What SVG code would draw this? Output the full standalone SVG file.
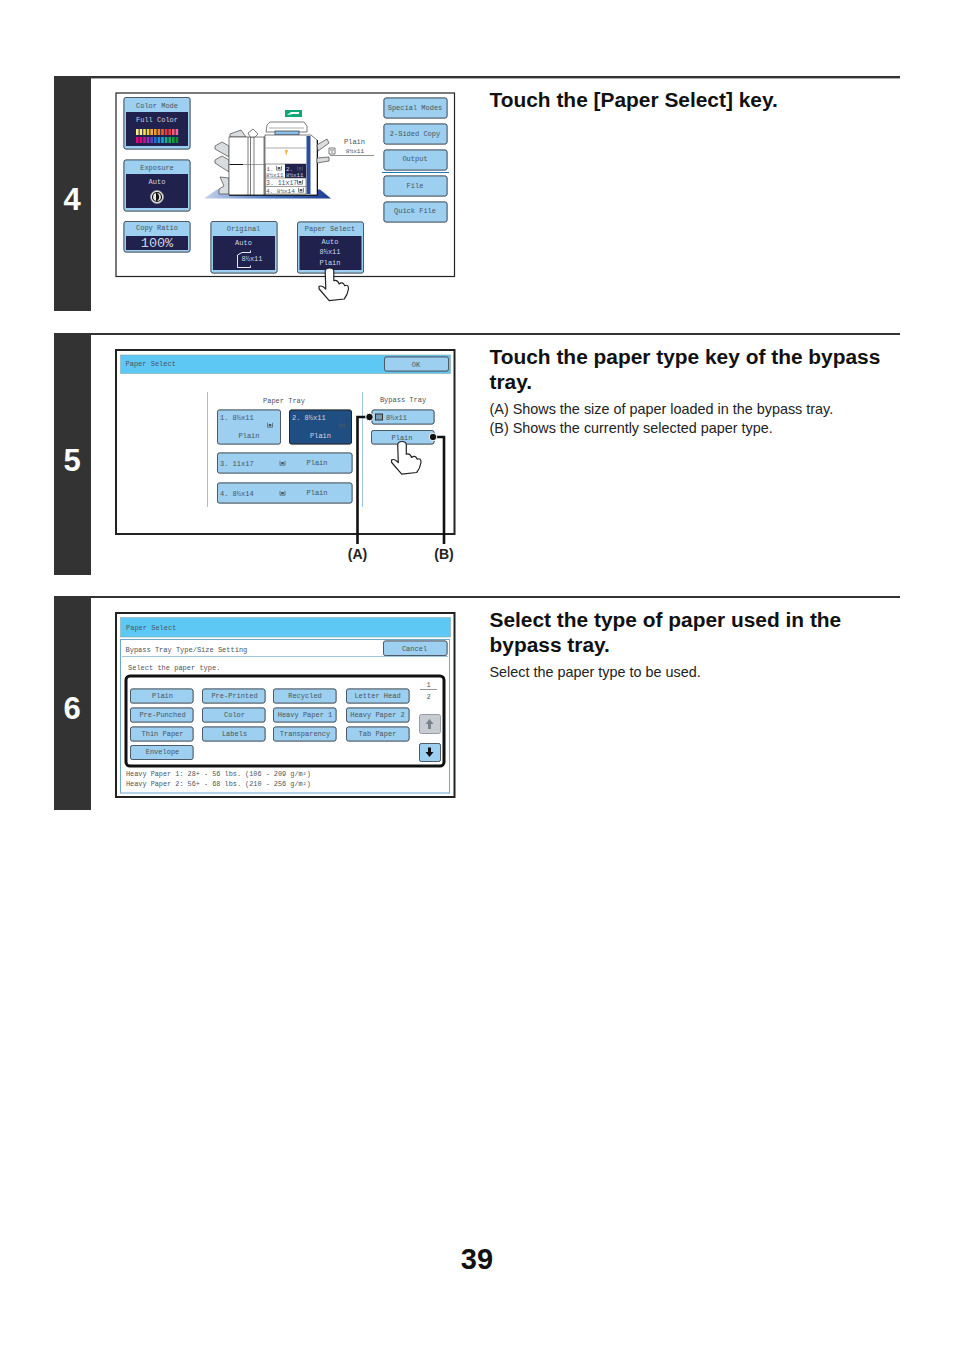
<svg xmlns="http://www.w3.org/2000/svg" xmlns:xlink="http://www.w3.org/1999/xlink" width="954" height="1351" viewBox="0 0 954 1351">
<style>
text{font-family:"Liberation Mono",monospace;font-size:7px;fill:#4a555d}
.m{text-anchor:middle}
.w{fill:#cfd6e2}
.num{font-family:"Liberation Sans",Arial,sans-serif;font-weight:700;font-size:31px;fill:#fff;text-anchor:middle}
.h{font-family:"Liberation Sans",Arial,sans-serif;font-weight:700;font-size:20.9px;fill:#111}
.b{font-family:"Liberation Sans",Arial,sans-serif;font-size:14.4px;fill:#222}
.l{font-family:"Liberation Sans",Arial,sans-serif;font-weight:700;font-size:14px;fill:#222;text-anchor:middle}
.pg{font-family:"Liberation Sans",Arial,sans-serif;font-weight:700;font-size:29px;fill:#111;text-anchor:middle}
.n{font-size:6.85px}
.bar{fill:#333}
.fr{fill:#fff;stroke:#222;stroke-width:1.2}
.fr2{fill:#fff;stroke:#222;stroke-width:2}
.btn{fill:#9ccff0;stroke:#4a555d;stroke-width:.9;filter:drop-shadow(.8px .8px 0 #5f6e78)}
.btnd{fill:#1f4f82;stroke:#222;stroke-width:.9;filter:drop-shadow(.8px .8px 0 #5f6e78)}
.hdr{fill:#5ec8f5;stroke:#8aa;stroke-width:.6}
.dark{fill:#20214d}
.vl{stroke:#9fc4de;stroke-width:1;fill:none}
.mach{fill:#fff;stroke:#444;stroke-width:.7}
.tr{fill:#d9dde0;stroke:#444;stroke-width:.7}
.hand{fill:#fff;stroke:#222;stroke-width:1.2;stroke-linejoin:round}
.con{fill:none;stroke:#111;stroke-width:2.6}
.dot{fill:#111;stroke:#fff;stroke-width:1}
</style>
<defs>
<path id="hand" class="hand" d="M-4.3 3.3Q-4 0 0 0Q4.3 0 4.3 3.3L4.3 12.7Q8 11.5 9.7 16Q13 13 15.3 17.7Q19 16 19 21Q18 27 14.7 31L-.3 32.7L-10.3 21Q-11 18 -9.700 18.300Q-7.500 17 -3.700 21Z"/>
<g id="tray"><path d="M-2.500 -2.200V2.200H2.500V-2.200" fill="none" stroke="#4a555d" stroke-width=".7"/><rect x="-1.300" y="-1" width="2.600" height="2.200" fill="#4a555d"/></g>
<linearGradient id="base" x1="0" x2="1" y1="0" y2="0"><stop offset="0" stop-color="#c5d3ec"/><stop offset=".5" stop-color="#4f78c4"/><stop offset="1" stop-color="#1c3f8e"/></linearGradient>
</defs>

<g id="step-4">
<rect class="bar" x="54" y="76" width="846" height="2.400"/>
<rect class="bar" x="54" y="76" width="37" height="235"/>
<text class="num" x="72" y="210">4</text>
<text class="h" x="489.500" y="107">Touch the [Paper Select] key.</text>
<rect class="fr" x="116" y="93" width="338.500" height="183.500"/>
</g>

<g id="color-mode">
<rect class="btn" x="124" y="97.500" width="66" height="51.500" rx="2"/>
<rect class="dark" x="126" y="112" width="62" height="34"/>
<text class="m" x="157" y="108">Color Mode</text>
<text class="m w" x="157" y="122">Full Color</text>
<g id="color-bars">
<rect x="136" y="129" width="2.600" height="6" fill="#f7ef8a"/><rect x="139.600" y="129" width="2.600" height="6" fill="#f7ef8a"/><rect x="143.200" y="129" width="2.600" height="6" fill="#f5e033"/><rect x="146.800" y="129" width="2.600" height="6" fill="#f5d033"/><rect x="150.400" y="129" width="2.600" height="6" fill="#f0b030"/><rect x="154" y="129" width="2.600" height="6" fill="#ee9a30"/><rect x="157.600" y="129" width="2.600" height="6" fill="#ec8030"/><rect x="161.200" y="129" width="2.600" height="6" fill="#e86030"/><rect x="164.800" y="129" width="2.600" height="6" fill="#e53a35"/><rect x="168.400" y="129" width="2.600" height="6" fill="#e53a45"/><rect x="172" y="129" width="2.600" height="6" fill="#ee5a80"/><rect x="175.600" y="129" width="2.600" height="6" fill="#f06aa0"/>
<rect x="136" y="137" width="2.600" height="6" fill="#e6007e"/><rect x="139.600" y="137" width="2.600" height="6" fill="#e6007e"/><rect x="143.200" y="137" width="2.600" height="6" fill="#d0109a"/><rect x="146.800" y="137" width="2.600" height="6" fill="#a030b0"/><rect x="150.400" y="137" width="2.600" height="6" fill="#6040c0"/><rect x="154" y="137" width="2.600" height="6" fill="#1f6fd0"/><rect x="157.600" y="137" width="2.600" height="6" fill="#1090dd"/><rect x="161.200" y="137" width="2.600" height="6" fill="#10a8d0"/><rect x="164.800" y="137" width="2.600" height="6" fill="#10b090"/><rect x="168.400" y="137" width="2.600" height="6" fill="#10a860"/><rect x="172" y="137" width="2.600" height="6" fill="#10a040"/><rect x="175.600" y="137" width="2.600" height="6" fill="#109030"/>
</g>
</g>

<g id="exposure">
<rect class="btn" x="124" y="160" width="66" height="51" rx="2"/>
<rect class="dark" x="126" y="174" width="62" height="34"/>
<text class="m" x="157" y="169.500">Exposure</text>
<text class="m w" x="157" y="183.500">Auto</text>
<circle cx="157" cy="197" r="6.500" fill="#e8e8e8" stroke="#999" stroke-width=".8"/>
<path d="M156 192.500A4.800 4.800 0 0 1 156 201.500Z" fill="#111"/>
<circle cx="157" cy="197" r="4.500" fill="none" stroke="#111" stroke-width="1.200"/>
</g>

<g id="copy-ratio">
<rect class="btn" x="124" y="221.500" width="66" height="30.500" rx="2"/>
<rect class="dark" x="126" y="236" width="62" height="14"/>
<text class="m" x="157" y="230">Copy Ratio</text>
<text class="m w" x="157" y="247" style="font-size:13.500px">100%</text>
</g>

<g id="original">
<rect class="btn" x="211" y="221.500" width="66" height="51.500" rx="2"/>
<rect class="dark" x="213" y="236" width="62" height="34"/>
<text class="m" x="243.500" y="231">Original</text>
<text class="m w" x="243.500" y="245">Auto</text>
<path d="M250.500 250.500V252.500H242L237.500 255V267.500H250.500V265.500" fill="none" stroke="#e8edf2" stroke-width="1"/>
<text class="m w" x="252" y="261">8½x11</text>
</g>

<g id="paper-select-key">
<rect class="btn" x="297.500" y="222" width="66" height="51" rx="2"/>
<rect class="dark" x="299.500" y="236" width="62" height="34"/>
<text class="m" x="330" y="231">Paper Select</text>
<text class="m w" x="330" y="244">Auto</text>
<text class="m w" x="330" y="254">8½x11</text>
<text class="m w" x="330" y="265">Plain</text>
<use xlink:href="#hand" href="#hand" x="329.500" y="268"/>
</g>

<g id="machine">
<polygon points="204,198.500 217,189.500 320,189.500 331,198.500" fill="url(#base)"/>
<rect x="285" y="110" width="17" height="7" fill="#12a875"/>
<path d="M287 115L291 112H299V114H293Z" fill="#fff"/>
<path d="M266 132L267 125L270 122H304L307 126V132Z" class="mach"/>
<path d="M269 128H304" stroke="#777" stroke-width=".6"/>
<rect x="275" y="131" width="24" height="4" fill="#8bbfe8" stroke="#333" stroke-width=".7"/>
<path d="M229 157L215 149V146L222 142L229 146ZM229 172L215 163V160L222 156L229 160ZM229 194H219V189L224 186L220 177L229 178Z" class="tr"/>
<path d="M230 137V134L241 130L246 137Z" class="tr"/>
<path d="M229 137H265V195H229Z" class="mach"/>
<path d="M248 133L253 129L258 134L255 137H250Z" class="mach"/>
<path d="M248 137V195M250.500 137V195M254 137V195M264 137V195" class="mach"/>
<path d="M229.500 164.500H243" stroke="#111" stroke-width="1" fill="none"/>
<path d="M243 164.500H265" stroke="#666" stroke-width=".6" fill="none"/>
<path d="M265 135H311L317 140V195H265Z" class="mach"/>
<path d="M229 195.300H317.500V140" fill="none" stroke="#111" stroke-width="1"/>
<rect x="306.500" y="136" width="4" height="58" fill="#2c4d9c"/>
<path d="M317 145L327 139L329 143L318 151ZM317 158L329 157L329 161L317 163Z" class="tr"/>
<path d="M265.500 148H306" stroke="#888" stroke-width=".7"/>
<path d="M285 150L288 150L286 156Z" fill="#f0b040"/>
<rect x="265.500" y="164" width="40.500" height="30" fill="#fff" stroke="#555" stroke-width=".6"/>
<rect x="285" y="164" width="21" height="14" fill="#20214d"/>
<path d="M265.500 178H306M265.500 186.500H306" stroke="#555" stroke-width=".6"/>
<text style="font-size:5.800px" x="266.500" y="170.500">1.</text>
<use xlink:href="#tray" href="#tray" x="279" y="168"/>
<text class="w" style="font-size:5.800px" x="286" y="170.500">2.</text>
<use xlink:href="#tray" href="#tray" x="300" y="168"/>
<text style="font-size:5.800px" x="266" y="176.500">8½x11</text>
<text class="w" style="font-size:5.800px" x="286" y="176.500">8½x11</text>
<text style="font-size:6.500px" x="266" y="184.500">3. 11x17</text>
<use xlink:href="#tray" href="#tray" x="300" y="182"/>
<text style="font-size:6px" x="266" y="192.500">4. 8½x14</text>
<use xlink:href="#tray" href="#tray" x="301" y="190"/>
<path d="M329 148H335V154H329Z" fill="#fff" stroke="#444" stroke-width=".7"/>
<path d="M330 150H334M331 152H333" stroke="#444" stroke-width=".7"/>
<text class="m" x="354.500" y="143.500">Plain</text>
<text class="m" x="355" y="153" style="font-size:6.200px">8½x11</text>
<path d="M330 155.500H374" stroke="#777" stroke-width=".8"/>
</g>

<g id="right-keys">
<rect class="btn" x="384" y="98" width="63" height="20" rx="2"/><text class="m" x="415" y="110">Special Modes</text>
<rect class="btn" x="384" y="124" width="63" height="20" rx="2"/><text class="m" x="415" y="136">2-Sided Copy</text>
<rect class="btn" x="384" y="150" width="63" height="20" rx="2"/><text class="m" x="415" y="161">Output</text>
<path d="M382 172.500H449" stroke="#1e78b8" stroke-width="1"/>
<rect class="btn" x="384" y="176" width="63" height="20" rx="2"/><text class="m" x="415" y="188">File</text>
<rect class="btn" x="384" y="202" width="63" height="20" rx="2"/><text class="m" x="415" y="213">Quick File</text>
</g>

<g id="step-5">
<rect class="bar" x="54" y="333" width="846" height="2"/>
<rect class="bar" x="54" y="333" width="37" height="242"/>
<text class="num" x="72" y="471">5</text>
<text class="h" x="489.500" y="364">Touch the paper type key of the bypass</text>
<text class="h" x="489.500" y="389">tray.</text>
<text class="b" x="489.500" y="414">(A) Shows the size of paper loaded in the bypass tray.</text>
<text class="b" x="489.500" y="433">(B) Shows the currently selected paper type.</text>
<rect class="fr2" x="116" y="350" width="338.500" height="184"/>
<rect class="hdr" x="120.500" y="355" width="330" height="18.500"/>
<text x="125.500" y="366">Paper Select</text>
<rect class="btn" x="384.500" y="357" width="64" height="14" rx="2"/>
<text class="m" x="416" y="366.500">OK</text>
<path class="vl" d="M207.500 392V507M362.500 392V507"/>
<text class="m" x="284" y="403">Paper Tray</text>
<text class="m" x="403" y="402">Bypass Tray</text>
</g>

<g id="tray-1"><rect class="btn" x="217.500" y="410" width="63" height="34" rx="2"/><text x="220" y="420">1. 8½x11</text><use xlink:href="#tray" href="#tray" x="270" y="425"/><text class="m" x="249" y="438">Plain</text></g>
<g id="tray-2"><rect class="btnd" x="289.500" y="410" width="62" height="34" rx="2"/><text class="w" x="292" y="420">2. 8½x11</text><use xlink:href="#tray" href="#tray" x="342" y="425"/><text class="m w" x="320.500" y="438">Plain</text></g>
<g id="tray-3"><rect class="btn" x="217.500" y="453" width="134.500" height="20" rx="2"/><text x="220" y="465.500">3. 11x17</text><use xlink:href="#tray" href="#tray" x="282.500" y="463"/><text class="m" x="317" y="465">Plain</text></g>
<g id="tray-4"><rect class="btn" x="217.500" y="483" width="134.500" height="20" rx="2"/><text x="220" y="495.500">4. 8½x14</text><use xlink:href="#tray" href="#tray" x="282.500" y="493"/><text class="m" x="317" y="495">Plain</text></g>
<g id="bypass-size"><rect class="btn" x="372" y="410" width="62" height="14" rx="2"/><rect x="375.500" y="414" width="7" height="6" fill="#7d99ad" stroke="#333" stroke-width="1"/><text x="386" y="419.500">8½x11</text></g>
<g id="bypass-type"><rect class="btn" x="371.500" y="430.500" width="62.500" height="13.500" rx="2"/><text class="m" x="402" y="439.500">Plain</text><use xlink:href="#hand" href="#hand" x="402" y="441.500"/></g>

<g id="connectors">
<path class="con" d="M369 417H357.500V544"/>
<path class="con" d="M433 437H444V544"/>
<circle class="dot" cx="369.500" cy="417" r="3.800"/>
<circle class="dot" cx="433" cy="437" r="3.800"/>
</g>
<g id="label-a"><text class="l" x="357.500" y="559">(A)</text></g>
<g id="label-b"><text class="l" x="444" y="559">(B)</text></g>

<g id="step-6">
<rect class="bar" x="54" y="596" width="846" height="2"/>
<rect class="bar" x="54" y="596" width="37" height="214"/>
<text class="num" x="72" y="719">6</text>
<text class="h" x="489.500" y="627">Select the type of paper used in the</text>
<text class="h" x="489.500" y="652">bypass tray.</text>
<text class="b" x="489.500" y="677">Select the paper type to be used.</text>
<rect class="fr2" x="116" y="613" width="338.500" height="184"/>
<rect class="hdr" x="120.500" y="617.500" width="330" height="19.500"/>
<text x="126" y="630">Paper Select</text>
<rect x="120.500" y="639.500" width="329" height="153.500" fill="#fff" stroke="#6fa6cf" stroke-width="1"/>
<text x="125.500" y="652">Bypass Tray Type/Size Setting</text>
<path d="M122 656.500H448" stroke="#9fc4de" stroke-width="1.200"/>
<rect class="btn" x="383.500" y="641" width="63.500" height="14.500" rx="2"/>
<text class="m" x="414.500" y="650.500">Cancel</text>
<text x="128" y="670">Select the paper type.</text>
<rect x="126" y="676" width="318" height="90" rx="4" fill="#fff" stroke="#111" stroke-width="3"/>
<text class="m" x="428.500" y="686.500">1</text>
<path d="M420 689.500H437" stroke="#666" stroke-width=".7"/>
<text class="m" x="428.500" y="698.500">2</text>
<text class="n" x="126" y="775.500">Heavy Paper 1: 28+ - 56 lbs. (106 - 209 g/m²)</text>
<text class="n" x="126" y="785.500">Heavy Paper 2: 56+ - 68 lbs. (210 - 256 g/m²)</text>
</g>

<g id="type-keys">
<rect class="btn" x="130.500" y="689" width="62.500" height="14" rx="2"/><text class="m" x="162.500" y="698">Plain</text>
<rect class="btn" x="202.500" y="689" width="62.500" height="14" rx="2"/><text class="m" x="234.500" y="698">Pre-Printed</text>
<rect class="btn" x="273.500" y="689" width="62.500" height="14" rx="2"/><text class="m" x="305" y="698">Recycled</text>
<rect class="btn" x="346.500" y="689" width="62.500" height="14" rx="2"/><text class="m" x="377.500" y="698">Letter Head</text>
<rect class="btn" x="130.500" y="708" width="62.500" height="14" rx="2"/><text class="m" x="162.500" y="717">Pre-Punched</text>
<rect class="btn" x="202.500" y="708" width="62.500" height="14" rx="2"/><text class="m" x="234.500" y="717">Color</text>
<rect class="btn" x="273.500" y="708" width="62.500" height="14" rx="2"/><text class="m" x="305" y="717">Heavy Paper 1</text>
<rect class="btn" x="346.500" y="708" width="62.500" height="14" rx="2"/><text class="m" x="377.500" y="717">Heavy Paper 2</text>
<rect class="btn" x="130.500" y="727" width="62.500" height="14" rx="2"/><text class="m" x="162.500" y="736">Thin Paper</text>
<rect class="btn" x="202.500" y="727" width="62.500" height="14" rx="2"/><text class="m" x="234.500" y="736">Labels</text>
<rect class="btn" x="273.500" y="727" width="62.500" height="14" rx="2"/><text class="m" x="305" y="736">Transparency</text>
<rect class="btn" x="346.500" y="727" width="62.500" height="14" rx="2"/><text class="m" x="377.500" y="736">Tab Paper</text>
<rect class="btn" x="130.500" y="745.500" width="62.500" height="14" rx="2"/><text class="m" x="162.500" y="754">Envelope</text>
</g>
<g id="scroll-up"><rect x="419.500" y="714.500" width="21" height="19" rx="2" fill="#c6ccd2" stroke="#8a949b" stroke-width=".9"/><path d="M429.500 719L433.500 724H431V729H428V724H425.500Z" fill="#77828a"/></g>
<g id="scroll-down"><rect class="btn" x="419.500" y="743.500" width="21" height="18" rx="2"/><path d="M429.500 757L433.500 752H431V747.500H428V752H425.500Z" fill="#111"/></g>

<g id="page-number"><text class="pg" x="477" y="1269">39</text></g>
</svg>
